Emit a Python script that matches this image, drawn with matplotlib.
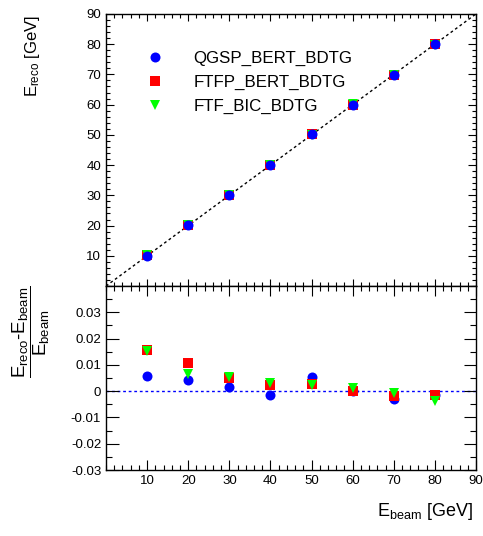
import numpy as np
import matplotlib
matplotlib.use('Agg')
import matplotlib.pyplot as plt
from matplotlib.ticker import MultipleLocator

# beam energies and reconstructed energies per physics list
e_beam = [10, 20, 30, 40, 50, 60, 70, 80]
reco_qgsp = [10.058, 20.088, 30.048, 39.948, 50.26, 60.0, 69.80, 79.89]
reco_ftfp = [10.157, 20.218, 30.153, 40.096, 50.135, 60.006, 69.86, 79.89]
reco_ftf = [10.152, 20.134, 30.156, 40.128, 50.11, 60.066, 69.944, 79.69]

labels = ['QGSP_BERT_BDTG', 'FTFP_BERT_BDTG', 'FTF_BIC_BDTG']
top_ticks = [10, 20, 30, 40, 50, 60, 70, 80, 90]
res_ticks = [-0.03, -0.02, -0.01, 0, 0.01, 0.02, 0.03]
res_tick_labels = ['-0.03', '-0.02', '-0.01', '0', '0.01', '0.02', '0.03']

plt.rcParams['font.family'] = ['Liberation Sans', 'DejaVu Sans']
plt.rcParams['mathtext.fontset'] = 'custom'
plt.rcParams['mathtext.rm'] = 'Liberation Sans'
plt.rcParams['mathtext.it'] = 'Liberation Sans'
plt.rcParams['mathtext.bf'] = 'Liberation Sans'

styles = [('o', '#0000ff', 7.2), ('s', '#ff0000', 6.6), ('v', '#00ff00', 7.2)]
top_order = [1, 2, 0]   # blue drawn last in the upper pad
bot_order = [0, 1, 2]

fig = plt.figure(figsize=(4.83, 5.36), dpi=100)
ax1 = fig.add_axes([0.2195, 0.4664, 0.766, 0.5076])
ax2 = fig.add_axes([0.2195, 0.1231, 0.766, 0.3433])

beam = np.array(e_beam, dtype=float)
series = [reco_qgsp, reco_ftfp, reco_ftf]

# diagonal reference
ax1.plot([0, 90], [0, 90], color='black', ls=(0, (2, 2)), lw=1.0, zorder=1)
for k, i in enumerate(top_order):
    m, c, ms = styles[i]
    ax1.plot(beam, series[i], ls='none', marker=m, color=c, ms=ms, mew=0,
             label=labels[i], zorder=3 + k)
for k, i in enumerate(bot_order):
    m, c, ms = styles[i]
    res = (np.array(series[i]) - beam) / beam
    ax2.plot(beam, res, ls='none', marker=m, color=c, ms=ms, mew=0, zorder=3 + k)
ax2.axhline(0, color='#0000ff', ls=(0, (2, 2)), lw=1.0, zorder=1)

handles, labs = ax1.get_legend_handles_labels()
order = [labs.index(l) for l in labels]
leg = ax1.legend([handles[j] for j in order], [labs[j] for j in order],
                 loc='upper left', bbox_to_anchor=(0.09, 0.89), frameon=False,
                 fontsize=12.2, handletextpad=1.8, labelspacing=0.52,
                 borderaxespad=0, handlelength=1.0)

for ax in (ax1, ax2):
    ax.set_xlim(0, 90)
    ax.xaxis.set_major_locator(MultipleLocator(10))
    ax.xaxis.set_minor_locator(MultipleLocator(2))
    ax.tick_params(which='both', direction='in', top=True, right=True, labelsize=9.5, width=0.8)
    for s in ax.spines.values():
        s.set_linewidth(1.0)

ax1.set_ylim(0, 90)
ax1.yaxis.set_major_locator(MultipleLocator(10))
ax1.yaxis.set_minor_locator(MultipleLocator(2))
ax1.set_yticks(top_ticks)
ax1.set_yticklabels([str(t) for t in top_ticks])
ax1.tick_params(labelbottom=False)
ax1.tick_params(which='major', length=6)
ax1.tick_params(which='minor', length=3)
ax1.tick_params(axis='x', which='major', length=5)
ax1.set_ylabel(r'$E_{reco}$ [GeV]', fontsize=12)
ax1.yaxis.set_label_coords(-0.173, 0.846)

ax2.set_ylim(-0.03, 0.04)
ax2.set_yticks(res_ticks)
ax2.set_yticklabels(res_tick_labels)
ax2.yaxis.set_minor_locator(MultipleLocator(0.005))
ax2.set_xticks(top_ticks)
ax2.set_xticklabels([str(t) for t in top_ticks])
ax2.tick_params(axis='y', which='major', length=9)
ax2.tick_params(axis='y', which='minor', length=4.5)
ax2.tick_params(axis='x', which='major', length=7)
ax2.tick_params(axis='x', which='minor', length=3.5)
ax2.set_ylabel(r'$\dfrac{E_{reco}\text{-}E_{beam}}{E_{beam}}$', fontsize=13.5)
ax2.yaxis.set_label_coords(-0.145, 0.75)
ax2.set_xlabel(r'$E_{beam}$ [GeV]', fontsize=13)
ax2.xaxis.set_label_coords(0.99, -0.17)
ax2.xaxis.label.set_horizontalalignment('right')

fig.savefig('out.png', dpi=100)
